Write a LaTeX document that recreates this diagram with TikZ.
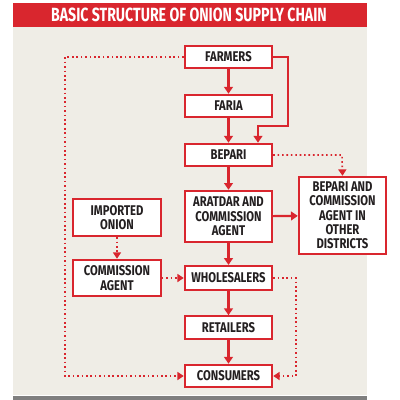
\documentclass[tikz,border=0pt]{standalone}
\usepackage{fontspec}
\setmainfont{Fira Sans}[FakeStretch=0.8]
\newfontfamily\titlefont{Fira Sans}[FakeStretch=0.74]
\usetikzlibrary{arrows.meta}
\definecolor{chainred}{HTML}{D9262E}
\definecolor{panel}{HTML}{EFEDE6}
\definecolor{footgray}{HTML}{7F7F7F}
\definecolor{inktext}{HTML}{231F20}
\tikzstyle{stage} = [rectangle, draw=chainred, line width=0.55mm, fill=white, text=inktext, minimum width=21.8mm, minimum height=5.6mm, text centered, align=center, inner sep=0pt, font=\fontsize{10}{10.2}\selectfont\bfseries]
\tikzstyle{flow} = [draw=chainred, line width=0.55mm, -{Triangle[width=2.2mm,length=1.7mm]}]
\tikzstyle{dotflow} = [draw=chainred, line width=0.4mm, dotted, -{Triangle[width=2mm,length=1.6mm]}]

\begin{document}
\begin{tikzpicture}[x=0.25mm,y=-0.25mm]
        \useasboundingbox (0,0) rectangle (400,400);
        \fill[panel] (13,27) rectangle (367,395);
        \fill[chainred] (13,3) rectangle (367,27);
        \fill[footgray] (13,396) rectangle (367,400);
        \node (title) at (189,15) [text=white, font=\titlefont\fontsize{13.6}{15}\selectfont\bfseries] {BASIC STRUCTURE OF ONION SUPPLY CHAIN};

        \node (farmers) [stage] at (228.5,57) {FARMERS};
        \node (faria) [stage] at (228.5,106) {FARIA};
        \node (bepari) [stage] at (228.5,155) {BEPARI};
        \node (aratdar) [stage, minimum height=12.8mm] at (228.5,216.5) {ARATDAR AND\\COMMISSION\\AGENT};
        \node (other) [stage, minimum height=19.3mm] at (342.5,215.5) {BEPARI AND\\COMMISSION\\AGENT IN\\OTHER\\DISTRICTS};
        \node (imported) [stage, minimum height=9.3mm] at (117,217.5) {IMPORTED\\ONION};
        \node (commission) [stage, minimum height=9.1mm] at (117,278) {COMMISSION\\AGENT};
        \node (wholesalers) [stage, minimum height=6mm] at (228.5,278) {WHOLESALERS};
        \node (retailers) [stage] at (228.5,327.5) {RETAILERS};
        \node (consumers) [stage] at (228.5,376) {CONSUMERS};

        % main chain
        \draw [flow] (farmers) -- (faria);
        \draw [flow] (faria) -- (bepari);
        \draw [flow] (bepari) -- (aratdar);
        \draw [flow] (aratdar) -- (wholesalers);
        \draw [flow] (wholesalers) -- (retailers);
        \draw [flow] (retailers) -- (consumers);
        \draw [flow] (aratdar) -- (other);

        % farmers straight to bepari
        \coordinate (skip1) at (288,57);
        \coordinate (skip2) at (288,126);
        \coordinate (skip3) at (258,126);
        \draw [flow] (farmers.east) -- (skip1) -- (skip2) -- (skip3) -- (skip3 |- bepari.north);

        % dotted links
        \coordinate (plain1) at (342,155);
        \draw [dotflow] (bepari.east) -- (plain1) -- (other.north);
        \draw [dotflow] (imported) -- (commission);
        \draw [dotflow] (commission) -- (wholesalers);

        \coordinate (plain2) at (65,57);
        \coordinate (plain3) at (65,376);
        \draw [dotflow] (farmers.west) -- (plain2) -- (plain3) -- (consumers.west);

        \coordinate (plain4) at (296,278);
        \coordinate (plain5) at (296,376);
        \draw [dotflow] (wholesalers.east) -- (plain4) -- (plain5) -- (consumers.east);
\end{tikzpicture}
\end{document}
